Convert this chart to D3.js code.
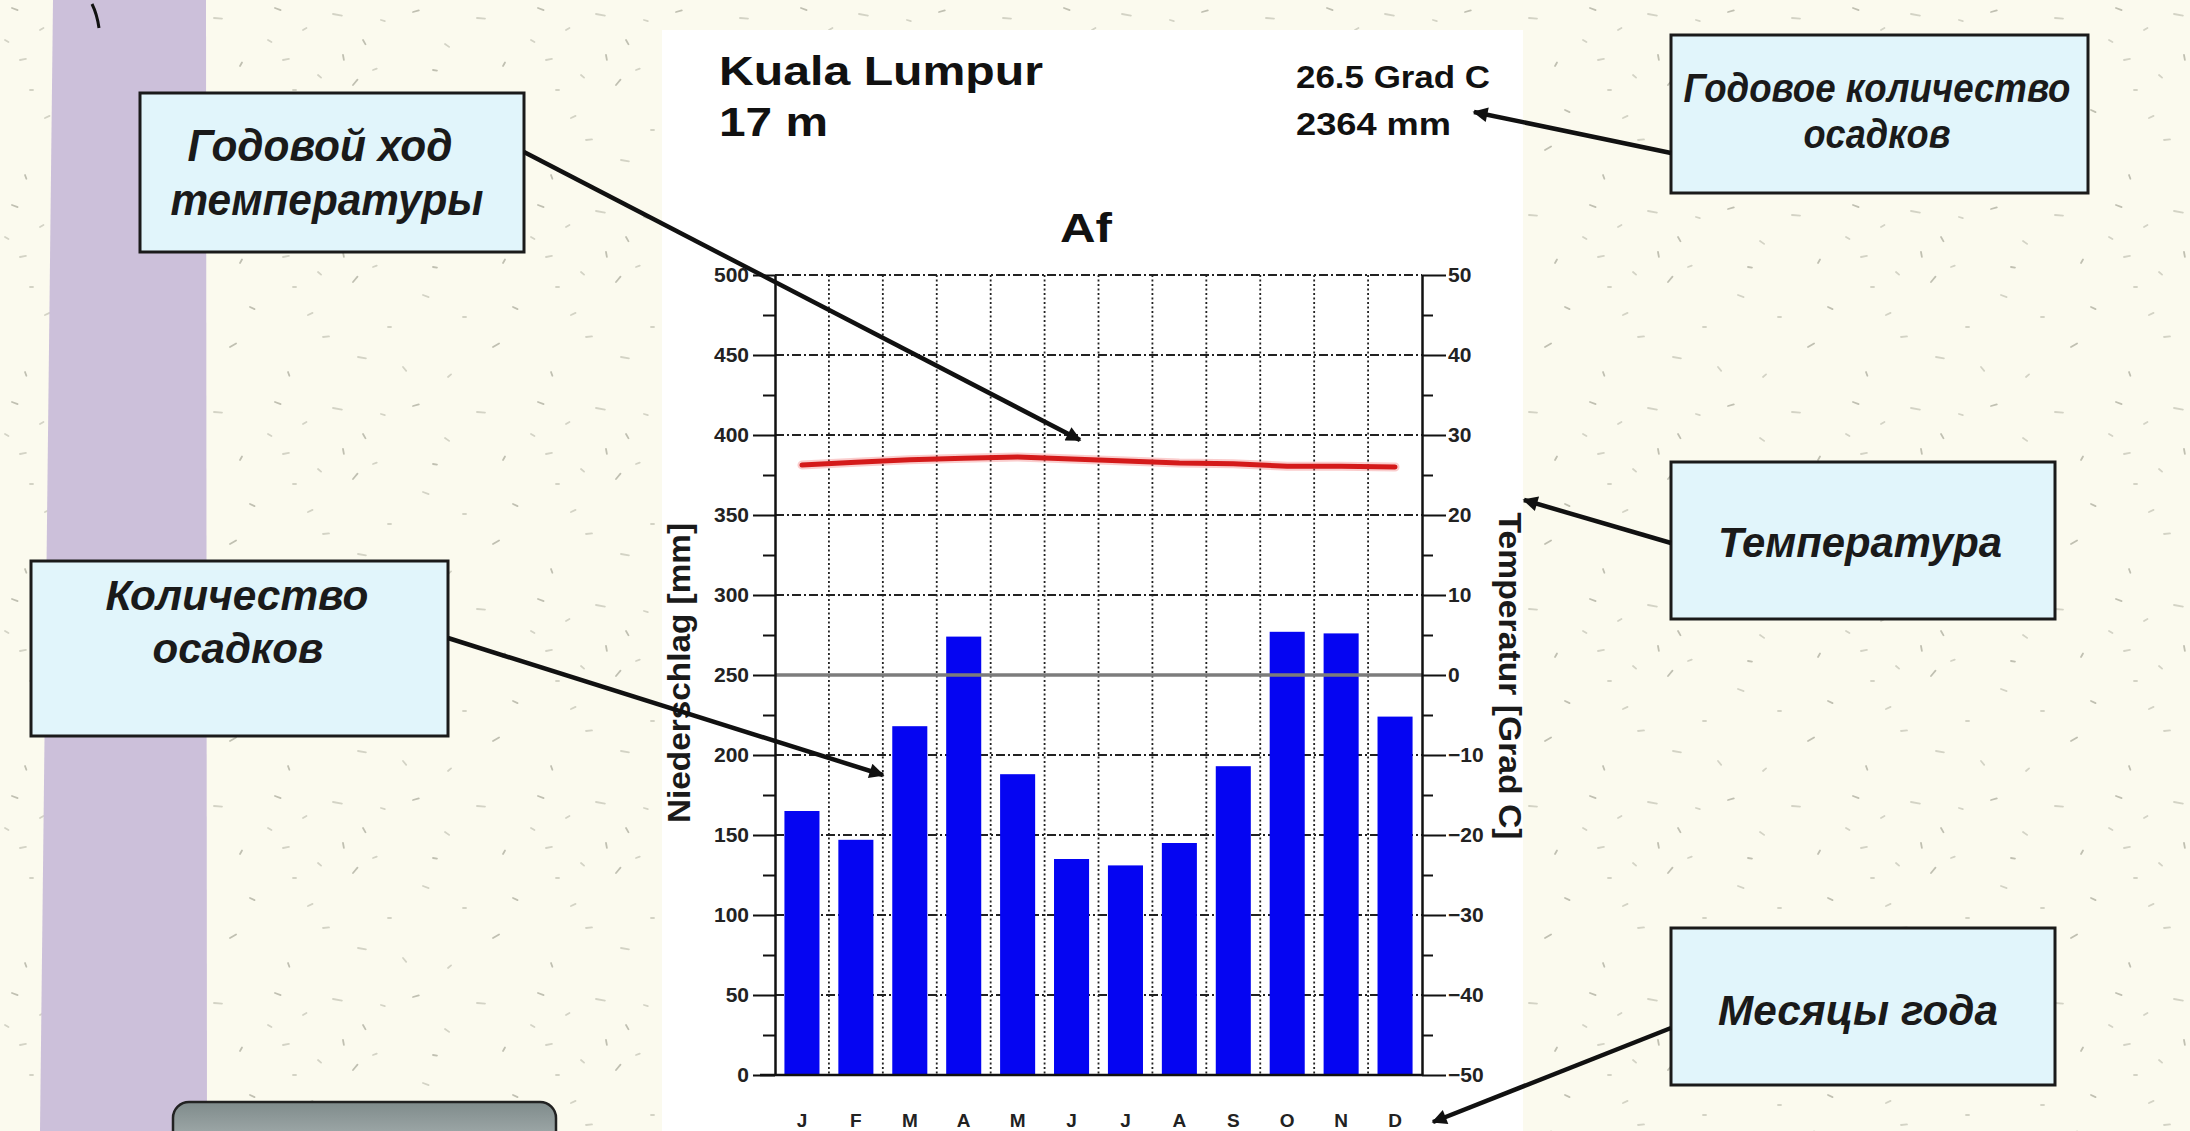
<!DOCTYPE html>
<html>
<head>
<meta charset="utf-8">
<script src="https://cdn.jsdelivr.net/npm/d3@7"></script>
<style>
  html, body { margin: 0; padding: 0; overflow: hidden; background: #fbfaee; }
  svg { display: block; }
</style>
</head>
<body>
<svg id="chart" width="2190" height="1131"></svg>
<script>
// ---------- data ----------
const months = ["J","F","M","A","M","J","J","A","S","O","N","D"];
const precipitation = [165, 147, 218, 274, 188, 135, 131, 145, 193, 277, 276, 224]; // mm
const temperature = [26.25, 26.6, 26.9, 27.1, 27.25, 27.0, 26.75, 26.5, 26.4, 26.1, 26.1, 26.0]; // Grad C
const precipTicks = [0, 50, 100, 150, 200, 250, 300, 350, 400, 450, 500];
const tempTicks = [-50, -40, -30, -20, -10, 0, 10, 20, 30, 40, 50];
const stationName = "Kuala Lumpur";
const stationHeight = "17 m";
const meanTemp = "26.5 Grad C";
const annualPrecip = "2364 mm";
const climateClass = "Af";

// ---------- setup ----------
const svg = d3.select("#chart");
const W = 2190, H = 1131;
const defs = svg.append("defs");

// speckle texture (decorative, fixed positions)
const speck = defs.append("pattern").attr("id", "speck")
  .attr("patternUnits", "userSpaceOnUse").attr("width", 263).attr("height", 197);
speck.append("rect").attr("width", 263).attr("height", 197).attr("fill", "#fbfaee");
[[12,8,6,20],[40,30,4,-30],[70,14,9,10],[100,40,5,60],[20,60,6,-10],[55,75,4,40],
 [90,85,7,-50],[118,20,4,15],[30,90,3,0],[80,55,5,80],[110,70,4,-20],[5,40,4,30],
 [150,12,6,-15],[182,44,5,35],[214,18,8,5],[240,66,4,-60],[160,98,6,20],[200,120,3,0],
 [230,150,7,-30],[140,170,5,50],[60,140,6,-5],[25,175,4,70],[95,160,8,10],[185,180,4,-40],
 [250,110,5,25],[125,130,3,0],[45,118,5,-25],[170,70,4,10]]
 .forEach(([x,y,l,a], i) => {
   speck.append("line").attr("x1", x).attr("y1", y).attr("x2", x + l).attr("y2", y)
     .attr("transform", `rotate(${a},${x},${y})`)
     .attr("stroke", i % 3 === 0 ? "#8f8f80" : "#b2b2a3").attr("stroke-width", 1.8)
     .attr("stroke-linecap", "round").attr("opacity", 0.55);
 });

const grad = defs.append("linearGradient").attr("id", "grayGrad")
  .attr("x1", 0).attr("y1", 0).attr("x2", 0).attr("y2", 1);
grad.append("stop").attr("offset", "0%").attr("stop-color", "#7f8b8b");
grad.append("stop").attr("offset", "100%").attr("stop-color", "#c9d0d0");

defs.append("marker").attr("id", "arrow")
  .attr("viewBox", "0 0 10 10").attr("refX", 9).attr("refY", 5)
  .attr("markerUnits", "userSpaceOnUse").attr("markerWidth", 22).attr("markerHeight", 15)
  .attr("orient", "auto")
  .append("path").attr("d", "M0,0 L10,5 L0,10 z").attr("fill", "#111");

// background
svg.append("rect").attr("width", W).attr("height", H).attr("fill", "url(#speck)");
// purple band
svg.append("path").attr("d", "M53,0 L206,0 L207,1131 L40,1131 Z").attr("fill", "#ccc0da");
svg.append("path").attr("d", "M92,4 Q97,14 99,28").attr("stroke", "#111").attr("stroke-width", 3).attr("fill", "none");

// white chart panel
svg.append("rect").attr("x", 662).attr("y", 30).attr("width", 861).attr("height", H - 30).attr("fill", "#ffffff");

// ---------- scales ----------
const x = d3.scaleBand().domain(d3.range(months.length)).range([775, 1422])
  .paddingInner(0.35).paddingOuter(0.175);
const yP = d3.scaleLinear().domain([0, 500]).range([1075, 275]);
const yT = d3.scaleLinear().domain([-50, 50]).range([1075, 275]);

const plot = svg.append("g");

// vertical dotted gridlines at month boundaries
const gap = (x.step() - x.bandwidth()) / 2;
plot.selectAll(".vgrid").data(d3.range(1, months.length)).join("line")
  .attr("x1", d => x(d) - gap).attr("x2", d => x(d) - gap)
  .attr("y1", yP(500)).attr("y2", yP(0))
  .attr("stroke", "#222").attr("stroke-width", 1.8).attr("stroke-dasharray", "2,2.5");

// horizontal dash-dot gridlines
plot.selectAll(".hgrid").data(precipTicks.filter(d => d !== 0 && d !== 250)).join("line")
  .attr("x1", 775).attr("x2", 1422).attr("y1", d => yP(d)).attr("y2", d => yP(d))
  .attr("stroke", "#222").attr("stroke-width", 1.8).attr("stroke-dasharray", "9,3,2,3");

// bars
plot.selectAll(".bar").data(precipitation).join("rect")
  .attr("x", (d, i) => x(i)).attr("width", x.bandwidth())
  .attr("y", d => yP(d)).attr("height", d => yP(0) - yP(d))
  .attr("fill", "#0505f2");

// zero-degree line (solid gray)
plot.append("line").attr("x1", 775).attr("x2", 1422)
  .attr("y1", yT(0)).attr("y2", yT(0))
  .attr("stroke", "#7c7c7c").attr("stroke-width", 3.5);

// temperature line
const line = d3.line().x((d, i) => x(i) + x.bandwidth() / 2).y(d => yT(d));
plot.append("path").datum(temperature).attr("d", line)
  .attr("fill", "none").attr("stroke", "#f07070").attr("stroke-width", 9).attr("opacity", 0.35)
  .attr("stroke-linecap", "round");
plot.append("path").datum(temperature).attr("d", line)
  .attr("fill", "none").attr("stroke", "#d41a1a").attr("stroke-width", 5)
  .attr("stroke-linecap", "round").attr("stroke-linejoin", "round");

// axes
const boldFont = "'Liberation Sans', Arial, sans-serif";
const tickFont = g => g.selectAll("text")
  .attr("font-family", boldFont)
  .attr("font-size", 21).attr("font-weight", "bold").attr("fill", "#222");

const leftAxis = svg.append("g").attr("transform", "translate(775,0)")
  .call(d3.axisLeft(yP).tickValues(precipTicks).tickSize(22).tickPadding(4).tickSizeOuter(0));
leftAxis.call(tickFont);
svg.append("g").attr("transform", "translate(775,0)")
  .call(d3.axisLeft(yP).tickValues(d3.range(25, 500, 50)).tickSize(12).tickFormat("").tickSizeOuter(0))
  .call(g => g.select(".domain").remove());

const rightAxis = svg.append("g").attr("transform", "translate(1422,0)")
  .call(d3.axisRight(yT).tickValues(tempTicks).tickSize(24).tickPadding(2).tickSizeOuter(0));
rightAxis.call(tickFont);
svg.append("g").attr("transform", "translate(1422,0)")
  .call(d3.axisRight(yT).tickValues(d3.range(-45, 50, 10)).tickSize(11).tickFormat("").tickSizeOuter(0))
  .call(g => g.select(".domain").remove());

svg.selectAll(".tick line").attr("stroke", "#111").attr("stroke-width", 2);
svg.selectAll(".domain").attr("stroke", "#111").attr("stroke-width", 2.5);

// bottom axis line
svg.append("line").attr("x1", 760).attr("x2", 1422).attr("y1", yP(0)).attr("y2", yP(0))
  .attr("stroke", "#111").attr("stroke-width", 2.5);

// month labels
svg.selectAll(".month").data(months).join("text")
  .attr("x", (d, i) => x(i) + x.bandwidth() / 2).attr("y", 1127)
  .attr("text-anchor", "middle")
  .attr("font-family", boldFont)
  .attr("font-size", 19).attr("font-weight", "bold").attr("fill", "#222")
  .text(d => d);

// axis titles
svg.append("text").attr("transform", "translate(690,673) rotate(-90)")
  .attr("text-anchor", "middle").attr("font-family", boldFont)
  .attr("font-size", 31).attr("font-weight", "bold").attr("fill", "#1a1a1a")
  .attr("textLength", 300).attr("lengthAdjust", "spacingAndGlyphs")
  .text("Niederschlag [mm]");
svg.append("text").attr("transform", "translate(1499,676) rotate(90)")
  .attr("text-anchor", "middle").attr("font-family", boldFont)
  .attr("font-size", 31).attr("font-weight", "bold").attr("fill", "#1a1a1a")
  .attr("textLength", 327).attr("lengthAdjust", "spacingAndGlyphs")
  .text("Temperatur [Grad C]");

// header texts
function header(txt, xx, yy, size, len, anchor) {
  svg.append("text").attr("x", xx).attr("y", yy)
    .attr("text-anchor", anchor || "start")
    .attr("font-family", boldFont).attr("font-size", size).attr("font-weight", "bold")
    .attr("fill", "#111").attr("textLength", len).attr("lengthAdjust", "spacingAndGlyphs")
    .text(txt);
}
header(stationName, 719, 85, 40, 324);
header(stationHeight, 719, 136, 40, 109);
header(meanTemp, 1296, 88, 32, 194);
header(annualPrecip, 1296, 135, 32, 155);
header(climateClass, 1086, 242, 40, 52, "middle");

// ---------- annotation boxes ----------
const boxes = [
  { x: 140, y: 93, w: 384, h: 159, size: 44,
    lines: [["Годовой ход", 320, 161, 265], ["температуры", 327, 215, 313]] },
  { x: 31, y: 561, w: 417, h: 175, size: 42,
    lines: [["Количество", 237, 610, 263], ["осадков", 238, 663, 171]] },
  { x: 1671, y: 35, w: 417, h: 158, size: 40,
    lines: [["Годовое количество", 1877, 102, 387], ["осадков", 1877, 148, 147]] },
  { x: 1671, y: 462, w: 384, h: 157, size: 42,
    lines: [["Температура", 1860, 557, 284]] },
  { x: 1671, y: 928, w: 384, h: 157, size: 42,
    lines: [["Месяцы года", 1858, 1025, 280]] }
];
boxes.forEach(b => {
  svg.append("rect").attr("x", b.x).attr("y", b.y).attr("width", b.w).attr("height", b.h)
    .attr("fill", "#e1f5fb").attr("stroke", "#1a1a1a").attr("stroke-width", 3);
  b.lines.forEach(([t, cx, by, len]) => {
    svg.append("text").attr("x", cx).attr("y", by).attr("text-anchor", "middle")
      .attr("font-family", boldFont).attr("font-size", b.size)
      .attr("font-weight", "bold").attr("font-style", "italic").attr("fill", "#1a1a1a")
      .attr("textLength", len).attr("lengthAdjust", "spacingAndGlyphs")
      .text(t);
  });
});

// bottom gray rounded box (cut off)
svg.append("rect").attr("x", 173).attr("y", 1102).attr("width", 383).attr("height", 80)
  .attr("rx", 16).attr("fill", "url(#grayGrad)").attr("stroke", "#222").attr("stroke-width", 2.5);

// arrows
const arrows = [
  [524, 152, 1080, 440],
  [448, 638, 883, 775],
  [1671, 153, 1474, 112],
  [1671, 543, 1524, 500],
  [1671, 1028, 1433, 1122]
];
arrows.forEach(([x1, y1, x2, y2]) => {
  svg.append("line").attr("x1", x1).attr("y1", y1).attr("x2", x2).attr("y2", y2)
    .attr("stroke", "#111").attr("stroke-width", 4.5).attr("marker-end", "url(#arrow)");
});
</script>
</body>
</html>
